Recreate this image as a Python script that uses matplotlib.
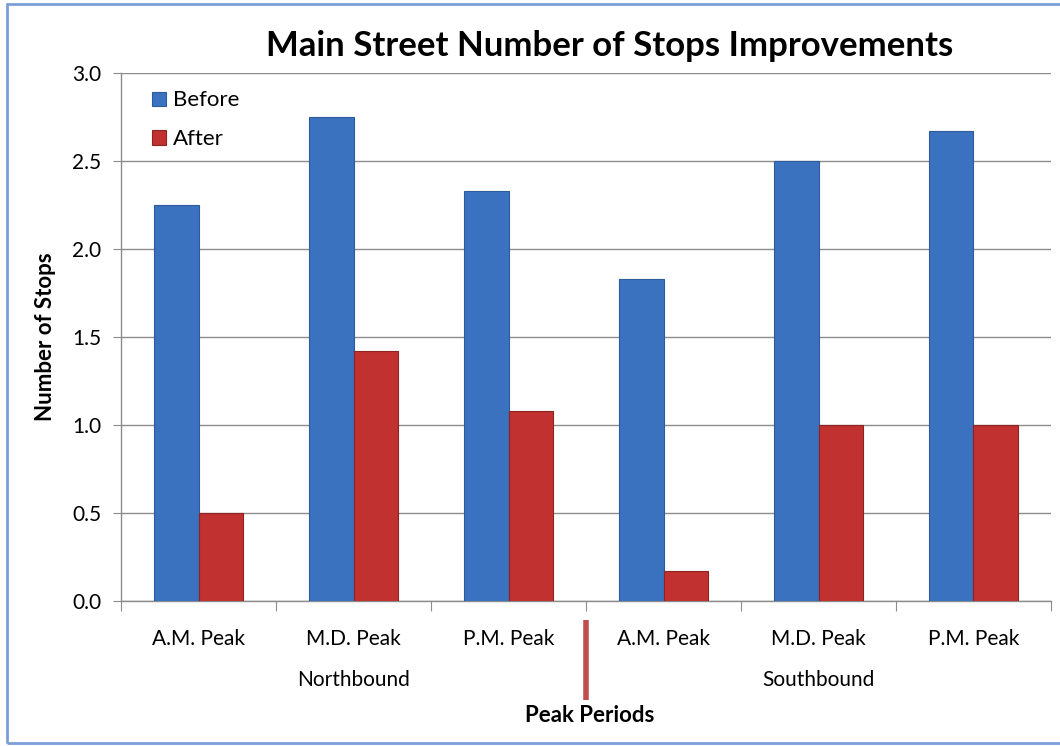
"""
Main Street number of stops, before and after improvements,
grouped by direction and peak period.
"""

import numpy as np
import matplotlib.pyplot as plt
from matplotlib.patches import Rectangle

# data
periods = ["A.M. Peak", "M.D. Peak", "P.M. Peak", "A.M. Peak", "M.D. Peak", "P.M. Peak"]
directions = ["Northbound", "Southbound"]
before = [2.25, 2.75, 2.33, 1.83, 2.50, 2.67]
after = [0.50, 1.42, 1.08, 0.17, 1.00, 1.00]

blue = "#3b72c0"
red = "#c0312f"
font = ["Lato", "DejaVu Sans"]


def make_plot():
    fig = plt.figure(figsize=(10.6, 7.46), dpi=100)
    ax = fig.add_axes([0.1142, 0.1944, 0.8773, 0.7077])

    x = np.arange(len(periods))
    w = 0.29
    ax.bar(x - w / 2, before, w, color=blue, edgecolor="#2d5a9a", linewidth=0.8,
           label="Before", zorder=3)
    ax.bar(x + w / 2, after, w, color=red, edgecolor="#8e2322", linewidth=0.8,
           label="After", zorder=3)

    ax.set_xlim(-0.5, len(periods) - 0.5)
    ax.set_ylim(0, 3.0)
    ax.set_yticks(np.arange(0, 3.01, 0.5))
    ax.set_yticklabels(["%.1f" % v for v in np.arange(0, 3.01, 0.5)],
                       family=font, fontsize=15)
    ax.yaxis.grid(True, color="#8c8c8c", linewidth=1.0, zorder=0)
    ax.tick_params(axis="y", length=6, color="#8c8c8c", pad=8)

    # category boundaries as ticks, labels on minor ticks
    ax.set_xticks(np.arange(-0.5, len(periods), 1.0))
    ax.set_xticklabels([])
    ax.tick_params(axis="x", which="major", length=7, color="#8c8c8c", direction="out")
    ax.set_xticks(x, minor=True)
    ax.set_xticklabels(periods, minor=True, family=font, fontsize=15)
    ax.tick_params(axis="x", which="minor", length=0, pad=20)

    for s in ["top", "right"]:
        ax.spines[s].set_visible(False)
    for s in ["left", "bottom"]:
        ax.spines[s].set_color("#8c8c8c")
        ax.spines[s].set_linewidth(1.0)

    # group labels and separator
    for i, d in enumerate(directions):
        ax.text(1 + 3 * i, -0.45, d, ha="center", va="center",
                family=font, fontsize=15, transform=ax.transData, clip_on=False)
    ax.plot([2.5, 2.5], [-0.108, -0.56], color="#c0504d", linewidth=4,
            clip_on=False, solid_capstyle="butt")
    fig.text(0.556, 0.041, "Peak Periods", ha="center", va="center",
             family=font, fontsize=16, fontweight="bold")

    ax.set_ylabel("Number of Stops", family=font, fontsize=16,
                  fontweight="bold", labelpad=12)
    fig.text(0.575, 0.938, "Main Street Number of Stops Improvements",
             ha="center", va="center", family=font, fontsize=25, fontweight="bold")

    ax.legend(loc="upper left", bbox_to_anchor=(0.012, 1.005), frameon=False,
              prop={"family": font, "size": 16}, handlelength=0.6,
              handleheight=0.6, handletextpad=0.35, labelspacing=0.85)

    # light blue frame around the chart
    fig.patches.append(Rectangle((0.007, 0.004), 1.2, 0.991, transform=fig.transFigure,
                                 fill=False, edgecolor="#7a9fd6", linewidth=2.0))

    fig.savefig("out.png", dpi=100)


if __name__ == "__main__":
    make_plot()
